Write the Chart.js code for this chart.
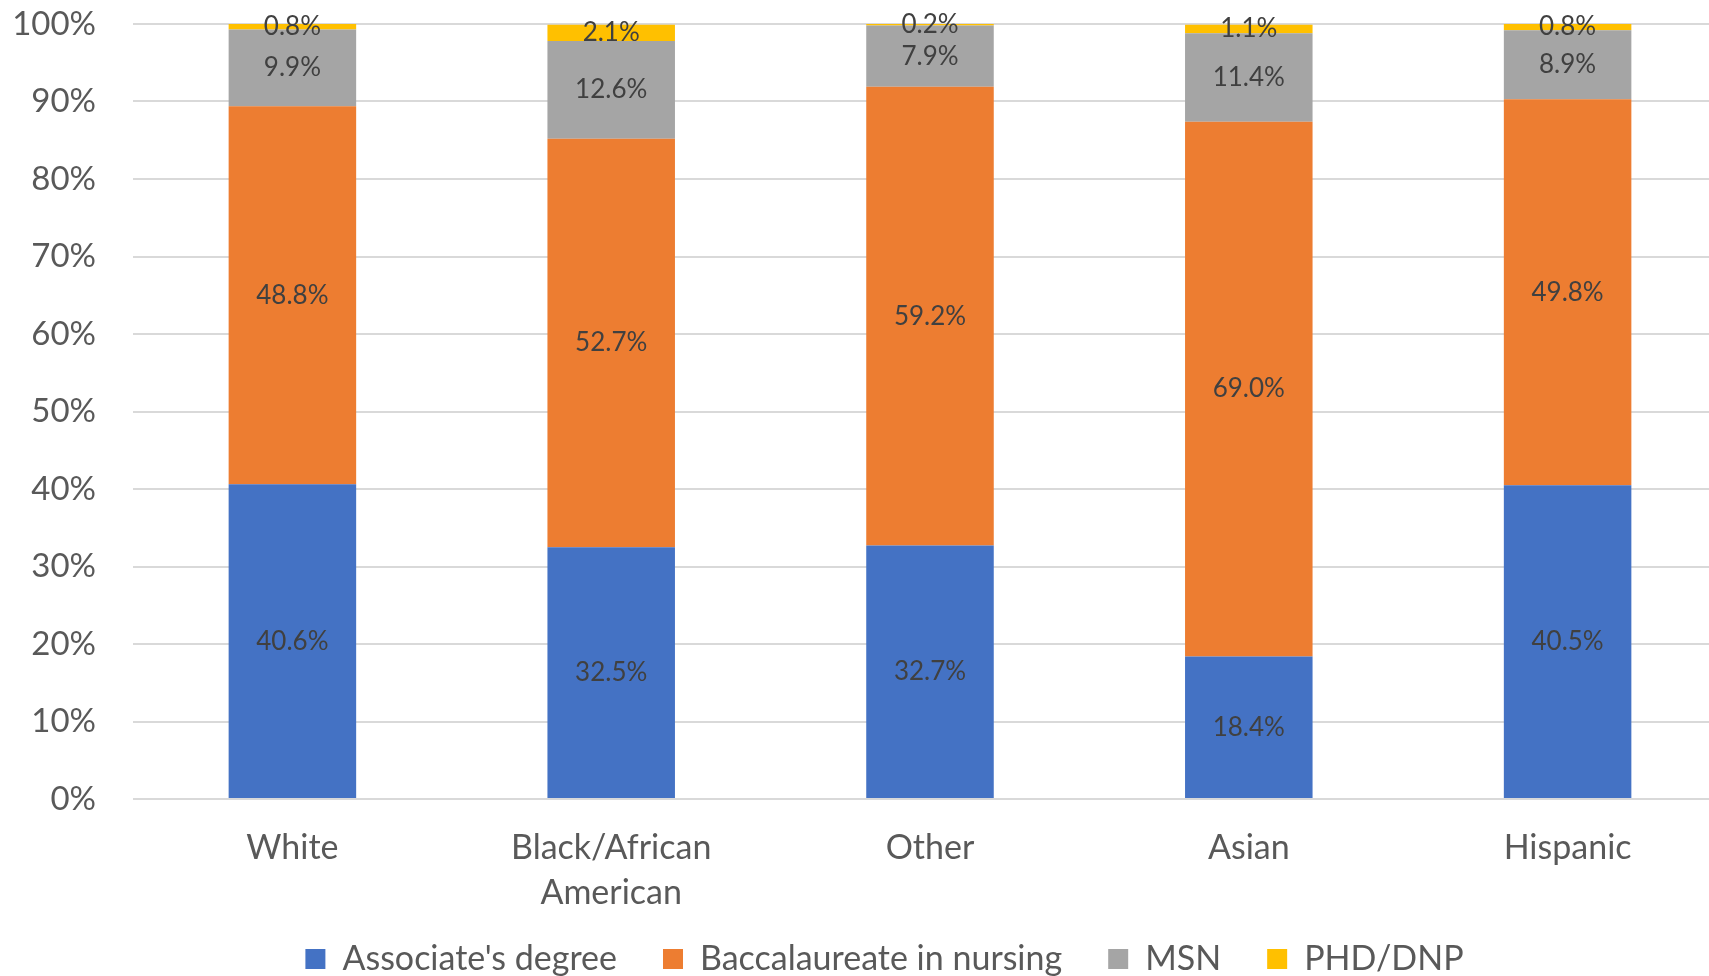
<!DOCTYPE html>
<html>
<head>
<meta charset="utf-8">
<title>Degree by race/ethnicity</title>
<script src="https://cdn.jsdelivr.net/npm/chart.js@4.4.1/dist/chart.umd.min.js"></script>
<style>
  html, body { margin: 0; padding: 0; background: #ffffff; overflow: hidden; }
  #wrap { position: relative; width: 1727px; height: 976px; }
</style>
</head>
<body>
<div id="wrap"><canvas id="chart"></canvas></div>
<script>
var categories = ["White", ["Black/African", "American"], "Other", "Asian", "Hispanic"];
var associate = [40.6, 32.5, 32.7, 18.4, 40.5];
var baccalaureate = [48.8, 52.7, 59.2, 69.0, 49.8];
var msn = [9.9, 12.6, 7.9, 11.4, 8.9];
var phdDnp = [0.8, 2.1, 0.2, 1.1, 0.8];
var seriesNames = ["Associate's degree", "Baccalaureate in nursing", "MSN", "PHD/DNP"];
var yTicks = [0, 10, 20, 30, 40, 50, 60, 70, 80, 90, 100];

(function () {
  "use strict";

  var FONT = "Lato, 'Open Sans', sans-serif";
  var colors = {
    blue: "#4472C4",
    orange: "#ED7D31",
    gray: "#A5A5A5",
    yellow: "#FFC000",
    text: "#595959",
    label: "#404040",
    grid: "#D9D9D9"
  };

  // draws the value in the middle of every segment
  var segmentLabels = {
    id: "segmentLabels",
    afterDatasetsDraw: function (chart) {
      var ctx = chart.ctx;
      ctx.save();
      ctx.font = "26px " + FONT;
      ctx.fillStyle = colors.label;
      ctx.textAlign = "center";
      ctx.textBaseline = "middle";
      chart.data.datasets.forEach(function (ds, i) {
        var meta = chart.getDatasetMeta(i);
        meta.data.forEach(function (bar, j) {
          var y = (bar.y + bar.base) / 2;
          ctx.fillText(ds.data[j].toFixed(1) + "%", bar.x, y);
        });
      });
      ctx.restore();
    }
  };

  // the legend sits right of where chart.js centres it and is cut by the bottom edge
  var legendNudge = {
    id: "legendNudge",
    afterLayout: function (chart) {
      var lg = chart.legend;
      if (!lg) return;
      lg.left += 21; lg.right += 21;
      lg.top -= 22; lg.bottom -= 22;
    }
  };

  function makeSet(name, values, color) {
    return {
      label: name,
      data: values,
      backgroundColor: color,
      borderWidth: 0,
      categoryPercentage: 1,
      barPercentage: 0.4
    };
  }

  new Chart(document.getElementById("chart"), {
    type: "bar",
    data: {
      labels: categories,
      datasets: [
        makeSet(seriesNames[0], associate, colors.blue),
        makeSet(seriesNames[1], baccalaureate, colors.orange),
        makeSet(seriesNames[2], msn, colors.gray),
        makeSet(seriesNames[3], phdDnp, colors.yellow)
      ]
    },
    options: {
      responsive: true,
      maintainAspectRatio: false,
      animation: false,
      layout: { padding: { left: 0, right: 0, top: 24, bottom: -32 } },
      scales: {
        x: {
          stacked: true,
          grid: { display: false },
          border: { display: false },
          ticks: {
            color: colors.text,
            padding: 18,
            font: { family: FONT, size: 34, lineHeight: 1.33 }
          },
          afterFit: function (scale) {
            scale.height = 119;
            scale.paddingLeft = 0;
            scale.paddingRight = 0;
          }
        },
        y: {
          stacked: true,
          min: 0,
          max: 100,
          afterBuildTicks: function (scale) {
            scale.ticks = yTicks.map(function (v) { return { value: v }; });
          },
          grid: { color: colors.grid, lineWidth: 2, drawTicks: false },
          border: { display: false },
          ticks: {
            color: colors.text,
            padding: 37,
            font: { family: FONT, size: 33 },
            callback: function (v) { return v + "%"; }
          },
          afterFit: function (scale) {
            scale.width = 133;
            scale.paddingTop = 0;
            scale.paddingBottom = 0;
          }
        }
      },
      plugins: {
        legend: {
          position: "bottom",
          labels: {
            color: colors.text,
            boxWidth: 20,
            boxHeight: 20,
            padding: 46,
            font: { family: FONT, size: 34 }
          }
        },
        tooltip: { enabled: false }
      }
    },
    plugins: [segmentLabels, legendNudge]
  });
})();
</script>
</body>
</html>
